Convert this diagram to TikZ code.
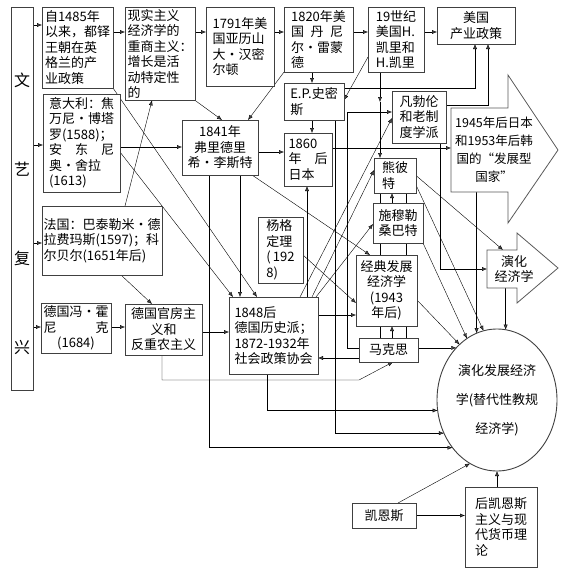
\documentclass[tikz,border=0pt]{standalone}
\usepackage{fontspec}
\setmainfont{Noto Sans CJK SC}
\usetikzlibrary{arrows.meta,shapes.geometric,backgrounds}

\begin{document}
\begin{tikzpicture}[
  x=1pt, y=-1pt,
  box/.style={draw=black!75,line width=0.9pt,fill=white,anchor=north west,align=left,inner sep=3pt,outer sep=0pt,font={\fontsize{13}{15.5}\selectfont}},
  body/.style={inner sep=0pt,outer sep=0pt},
  outline/.style={draw=black!65,line width=0.8pt,fill=white},
  arr/.style={-{Latex[length=5pt,width=4pt]}}
]
  \useasboundingbox (0,0) rectangle (560,570);
  \node[box,minimum width=22pt,minimum height=383pt,inner sep=0pt] (ren) at (11,7) {};
  \node[font={\fontsize{16}{89}\selectfont},align=center] (renText) at (22,214) {文\\艺\\复\\兴};
  \node[box,minimum width=71pt,minimum height=81pt] (tudor) at (42,7) {自1485年\\以来，都铎\\王朝在英\\格兰的产\\业政策};
  \node[box,minimum width=77pt,minimum height=98pt] (italy) at (43,94) {意大利：焦\\万尼·博塔\\罗(1588)；\\\makebox[65pt][s]{安\hfil 东\hfil 尼}\\奥·舍拉\\(1613)};
  \node[box,minimum width=120pt,minimum height=69pt,inner xsep=1.5pt] (france) at (42,206) {法国：巴泰勒米·德\\拉费玛斯(1597)；科\\尔贝尔(1651年后)};
  \node[box,minimum width=70pt,minimum height=50pt,align=center,inner xsep=2.5pt] (hornigk) at (41,303) {德国冯·霍\\\makebox[65pt][s]{尼\hfil 克}\\(1684)};
  \node[box,minimum width=70pt,minimum height=93pt,inner ysep=2pt,inner xsep=2.5pt] (realism) at (125,7) {现实主义\\经济学的\\重商主义：\\增长是活\\动特定性\\的};
  \node[box,minimum width=68pt,minimum height=79pt] (hamilton) at (206,7) {1791年美\\国亚历山\\大·汉密\\尔顿};
  \node[box,minimum width=69pt,minimum height=65pt] (raymond) at (284,7) {1820年美\\\makebox[52pt][s]{国\hfil 丹\hfil 尼}\\尔·雷蒙\\德};
  \node[box,minimum width=56pt,minimum height=65pt] (carey) at (368,7) {19世纪\\美国H.\\凯里和\\H.凯里};
  \node[box,minimum width=78pt,minimum height=37pt,align=center] (usind) at (437,7) {美国\\产业政策};
  \node[box,minimum width=60pt,minimum height=37pt] (smith) at (284,83) {E.P.史密\\斯};
  \node[box,minimum width=76pt,minimum height=55pt,align=center] (list) at (182,120) {1841年\\弗里德里\\希·李斯特};
  \node[box,minimum width=48pt,minimum height=53pt] (japan) at (284,133) {1860\\\makebox[39pt][s]{年\hfil 后}\\日本};
  \node[box,minimum width=54pt,minimum height=52pt] (veblen) at (392,91) {凡勃伦\\和老制\\度学派};
  \node[box,minimum width=42pt,minimum height=35pt] (schump) at (374,158) {熊彼\\特};
  \node[box,minimum width=50pt,minimum height=40pt] (schmoller) at (373,203) {施穆勒\\桑巴特};
  \node[box,minimum width=61pt,minimum height=71pt,align=center] (classic) at (356,255) {经典发展\\经济学\\(1943\\年后)};
  \node[box,minimum width=45pt,minimum height=65pt] (young) at (258,217) {杨格\\定理\\(\,192\\8)};
  \node[box,minimum width=89pt,minimum height=77pt] (histsch) at (229,297) {1848后\\德国历史派；\\1872-1932年\\社会政策协会};
  \node[box,minimum width=77pt,minimum height=51pt,align=center] (cameral) at (125,304) {德国官房主\\义和\\反重农主义};
  \node[box,minimum width=59pt,minimum height=24pt] (marx) at (359,338) {马克思};
  \node[box,minimum width=64pt,minimum height=25pt] (keynes) at (352,503) {凯恩斯};
  \node[box,minimum width=72pt,minimum height=80pt] (postk) at (465,487) {后凯恩斯\\主义与现\\代货币理\\论};
  \node[draw=black!75,line width=0.9pt,fill=white,ellipse,minimum width=120pt,minimum height=142pt,inner sep=0pt,outer sep=0pt,align=center,font={\fontsize{13}{29}\selectfont}] (evodev) at (497,400) {演化发展经济\\学(替代性教规\\经济学)};

  \node[body,minimum width=57pt,minimum height=84pt] (devstate) at (479.5,150) {};
  \draw[outline] (devstate.north west) -- (devstate.north east) -- (508,75) -- (558,150) -- (508,223) -- (devstate.south east) -- (devstate.south west) -- cycle;
  \node[align=center,font={\fontsize{12.5}{18}\selectfont}] (devText) at (494,150) {1945年后日本\\和1953年后韩\\国的“发展型\\国家”};
  \node[body,minimum width=30pt,minimum height=38pt] (evo) at (502,269) {};
  \draw[outline] (evo.north west) -- (evo.north east) -- (517,233) -- (558,268) -- (517,303) -- (evo.south east) -- (evo.south west) -- cycle;
  \node[align=center,font={\fontsize{13}{15}\selectfont}] (evoText) at (514,269) {演化\\经济学};

  \coordinate (careymid) at (380,102);

  \begin{scope}[on background layer,draw=black!70,line width=0.7pt]
  \draw[arr] (ren.east |- 0,25) -- (tudor.west |- 0,25);
  \draw[arr] (ren.east |- 0,145) -- (italy.west |- 0,145);
  \draw[arr] (ren.east |- 0,243) -- (france.west |- 0,243);
  \draw[arr] (ren.east |- 0,327) -- (hornigk.west |- 0,327);
  \draw[arr] (tudor.east |- 0,32) -- (realism.west |- 0,32);
  \draw[arr] (realism.east |- 0,32) -- (hamilton.west |- 0,32);
  \draw[arr] (hamilton.east |- 0,32) -- (raymond.west |- 0,32);
  \draw[arr] (raymond.east |- 0,32) -- (carey.west |- 0,32);
  \draw[arr] (carey.east |- 0,32) -- (usind.west |- 0,32);
  \draw[arr] (raymond.south -| 312,0) -- (smith.north -| 312,0);
  \draw[arr] (smith.south -| 312,0) -- (japan.north -| 312,0);
  \draw[arr] ([yshift=15pt]carey.south west) -- (smith.east |- 0,100);
  \draw[arr] (carey.south -| careymid) -- (careymid);
  \draw[arr] (careymid) -- (schump.north -| careymid);
  \draw (schump.south -| 380,0) -- (marx.north -| 380,0);
  \draw (schump.south -| 406,0) -- (marx.north -| 406,0);
  \draw[arr] (smith.east |- 0,88) -| (usind.south -| 475,0);
  \draw[arr] (veblen.east |- 0,105) -| (usind.south -| 488,0);
  \draw[arr] (realism.south east) -- (list.north -| 222,0);
  \draw[arr] (raymond.south west) -- (list.north -| 248,0);
  \draw[arr] (italy.east |- 0,147) -- (list.west |- 0,147);
  \draw[arr] (list.east |- 0,152) -- (japan.west |- 0,152);
  \draw[arr] (japan.east |- 0,148) -- (devstate.west |- 0,148);
  \draw[arr] (france.north -| 125,0) -- (realism.south -| 152,0);
  \draw[arr] (tudor.south east) -- (histsch.north -| 257,0);
  \draw[arr] (italy.east |- 0,152) -- (histsch.north -| 233,0);
  \draw[arr] (list.south -| 240,0) -- (histsch.north -| 240,0);
  \draw[arr] (list.south -| 209,0) |- (evodev.227);
  \draw[arr] (list.south -| 252,0) -- (classic.north -| 370,0);
  \draw[arr] (france.south -| 121,0) -- (cameral.north -| 152,0);
  \draw[arr] (hornigk.east |- 0,327) -- (cameral.west |- 0,327);
  \draw[arr] (cameral.east |- 0,332) -- (histsch.west |- 0,332);
  \draw[arr] (cameral.south -| 162,0) |- (marx.south west |- 0,380) -- (marx.south -| 393,0);
  \draw[arr] (histsch.north -| 307,0) -- (japan.south -| 307,0);
  \draw[arr] (histsch.east |- 0,315) -- (classic.west |- 0,315);
  \draw[arr] (histsch.north -| 300,0) -- (veblen.west |- 0,118);
  \draw[arr] (histsch.north -| 312,0) -- (schump.west |- 0,170);
  \draw[arr] (histsch.north -| 316,0) -- (schmoller.west |- 0,224);
  \draw[arr] (histsch.south -| 267,0) |- (evodev.190);
  \draw[arr] (young.east |- 0,255) -- (classic.west |- 0,303);
  \draw[arr] (smith.south -| 335,0) |- (evodev.212);
  \draw[arr] (marx.west |- 0,348) -| (347,112) -- (veblen.west |- 0,112);
  \draw[arr] (marx.west |- 0,358) -- (histsch.east |- 0,358);
  \draw[arr] (marx.north -| 392,0) -- (classic.south -| 392,0);
  \draw[arr] (marx.east |- evodev.128) -- (evodev.128);
  \draw[arr] (classic.east |- 0,300) -- (evodev.124);
  \draw[arr] (schmoller.south east) -- (evodev.116);
  \draw[arr] (schmoller.north -| 392,0) -- (schump.south -| 392,0);
  \draw[arr] (schump.east) -- (evo.north -| 503,0);
  \draw[arr] ([yshift=8pt]schump.south east) -- (evodev.101);
  \draw[arr] (devstate.south -| evodev.107) -- (evodev.107);
  \draw[arr] (veblen.south -| 440,0) |- (evo.west);
  \draw[arr] (evo.south -| evodev.83) -- (evodev.83);
  \draw[arr] (keynes.north -| 398,0) -- (evodev.247);
  \draw[arr] (keynes.east) -- (keynes.east -| postk.west);
  \draw[arr] (postk.north -| evodev.south) -- (evodev.south);
  \end{scope}
\end{tikzpicture}
\end{document}
